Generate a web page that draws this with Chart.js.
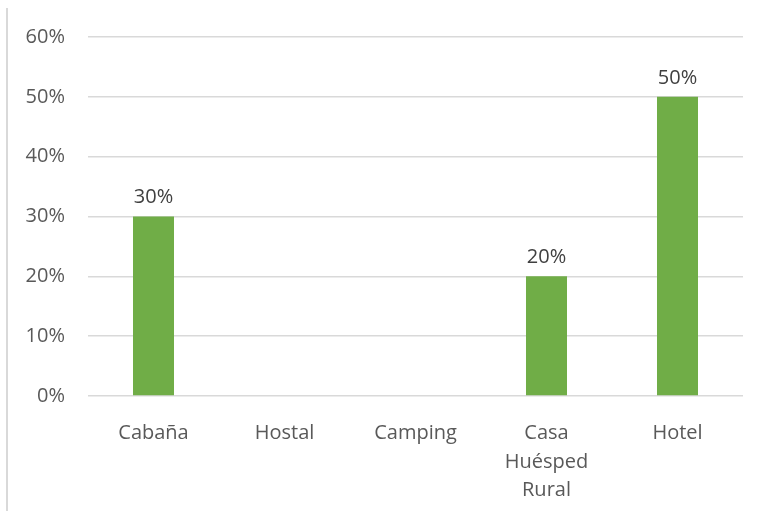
<!DOCTYPE html>
<html>
<head>
<meta charset="utf-8">
<script src="https://cdn.jsdelivr.net/npm/chart.js@4/dist/chart.umd.min.js"></script>
<style>
  html, body { margin: 0; padding: 0; background: #fff; }
  #wrap { position: relative; width: 761px; height: 511px; }
  #edge { position: absolute; left: 6px; top: 8px; bottom: 0; width: 2px; background: #d9d9d9; }
</style>
</head>
<body>
<div id="wrap">
  <div id="edge"></div>
  <canvas id="chart" width="761" height="511"></canvas>
</div>
<script>
const categories = ['Cabaña', 'Hostal', 'Camping', ['Casa', 'Huésped', 'Rural'], 'Hotel'];
const shares = [30, 0, 0, 20, 50];
const yTicks = [0, 10, 20, 30, 40, 50, 60];

// writes the percentage above each non-empty bar
const barLabels = {
  id: 'barLabels',
  afterDatasetsDraw(chart) {
    const ctx = chart.ctx;
    const meta = chart.getDatasetMeta(0);
    ctx.save();
    ctx.font = '20px "Open Sans"';
    ctx.fillStyle = '#404040';
    ctx.textAlign = 'center';
    ctx.textBaseline = 'middle';
    meta.data.forEach((bar, i) => {
      const v = shares[i];
      if (!v) return;
      ctx.fillText(v + '%', bar.x, bar.y - 19);
    });
    ctx.restore();
  }
};

new Chart(document.getElementById('chart'), {
  type: 'bar',
  data: {
    labels: categories,
    datasets: [{
      data: shares,
      backgroundColor: '#70AD47',
      barPercentage: 0.313,
      categoryPercentage: 1
    }]
  },
  options: {
    responsive: false,
    animation: false,
    layout: { padding: { top: 37, right: 18, bottom: 0, left: 0 } },
    plugins: { legend: { display: false }, tooltip: { enabled: false } },
    scales: {
      x: {
        grid: { display: false },
        border: { display: false },
        ticks: {
          color: '#595959',
          font: { family: 'Open Sans', size: 20, lineHeight: 1.43 },
          padding: 15,
          maxRotation: 0
        },
        afterFit(scale) { scale.height = 115; }
      },
      y: {
        min: 0,
        max: 60,
        afterBuildTicks(scale) { scale.ticks = yTicks.map(v => ({ value: v })); },
        grid: { color: '#d9d9d9', lineWidth: 1.5, drawTicks: false },
        border: { display: false },
        ticks: {
          color: '#595959',
          font: { family: 'Open Sans', size: 20 },
          padding: 23,
          callback: v => v + '%'
        },
        afterFit(scale) { scale.width = 88; }
      }
    }
  },
  plugins: [barLabels]
});
</script>
</body>
</html>
